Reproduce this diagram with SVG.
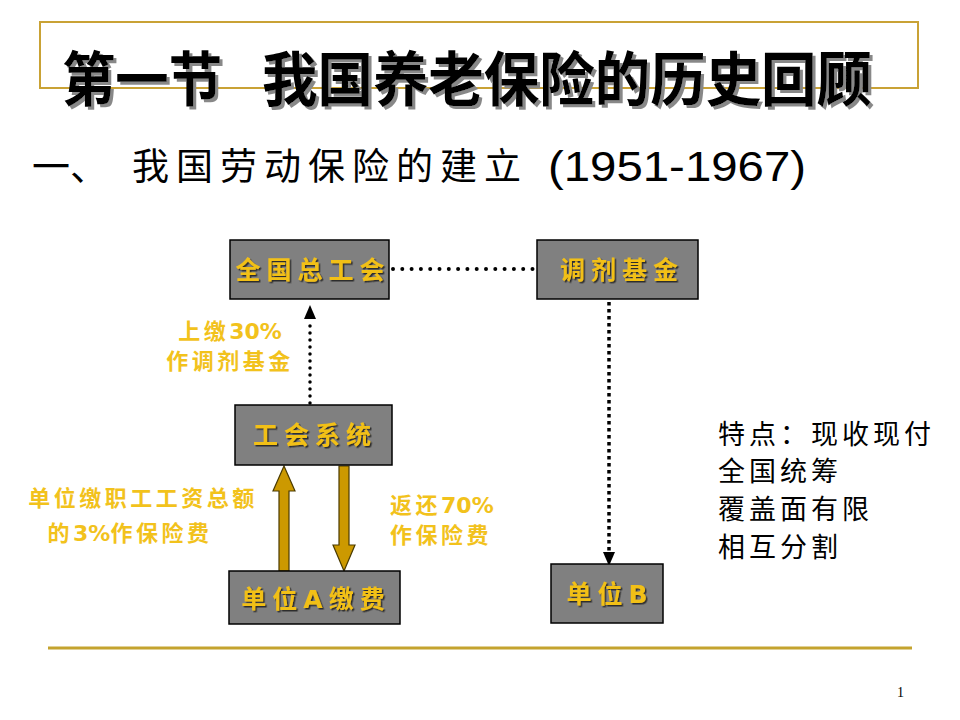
<svg xmlns="http://www.w3.org/2000/svg" width="960" height="720" viewBox="0 0 960 720">
<defs>
<style>
.box{fill:#808080;stroke:#000;stroke-width:1.5}
.bt{font-family:"Noto Sans CJK SC","Noto Sans",sans-serif;font-size:25px;font-weight:bold;fill:#F2C018;text-anchor:middle;letter-spacing:6px}
.lbl{font-family:"Noto Sans CJK SC","Noto Sans",sans-serif;font-size:22px;font-weight:bold;fill:#F2C21C;letter-spacing:3.5px}
.lbl tspan.n{font-family:"DejaVu Sans",sans-serif;font-weight:bold;letter-spacing:0}
.note{font-family:"Noto Sans CJK SC",serif;font-size:27px;fill:#000;letter-spacing:4px}
.ttl{font-family:"Noto Sans CJK SC",sans-serif;font-size:59px;font-weight:bold;fill:#000}
.dot{fill:none;stroke:#000;stroke-linecap:round}
.garrow{fill:#CC9900;stroke:#4a3a00;stroke-width:1.2}
</style>
<filter id="sh" x="-10%" y="-10%" width="130%" height="140%">
<feDropShadow dx="1.5" dy="1.5" stdDeviation="0.6" flood-color="#222" flood-opacity="0.9"/>
</filter>
<filter id="tsh" x="-5%" y="-10%" width="110%" height="130%">
<feDropShadow dx="3" dy="3" stdDeviation="0.5" flood-color="#888" flood-opacity="1"/>
</filter>
</defs>
<rect width="960" height="720" fill="#fff"/>

<!-- title -->
<rect x="40" y="22" width="878" height="66" fill="none" stroke="#C9A235" stroke-width="2"/>
<g id="title" filter="url(#tsh)">
<text class="ttl" x="62" y="101" textLength="160" lengthAdjust="spacingAndGlyphs">第一节</text>
<text class="ttl" x="262" y="101" textLength="610" lengthAdjust="spacingAndGlyphs">我国养老保险的历史回顾</text>
</g>
<g id="subtitle">
<text x="32" y="180" font-family="Noto Sans CJK SC,sans-serif" font-size="38" fill="#000">一、</text>
<text x="132" y="180" font-family="Noto Sans CJK SC,sans-serif" font-size="37" fill="#000" letter-spacing="7">我国劳动保险的建立</text>
<text x="548" y="181" font-family="Liberation Sans Narrow,Liberation Sans,sans-serif" font-size="42" fill="#000" textLength="258" lengthAdjust="spacingAndGlyphs">(1951-1967)</text>
</g>

<!-- connectors -->
<g id="connectors">
<line class="dot" x1="393" y1="269" x2="533" y2="269" stroke-width="4" stroke-dasharray="0 9.3"/>
<line class="dot" x1="310" y1="403" x2="310" y2="322" stroke-width="3.5" stroke-dasharray="0 7"/>
<polygon points="310,305 304,319 316,319" fill="#000"/>
<line x1="609" y1="302" x2="609" y2="553" stroke="#000" stroke-width="3.5" stroke-dasharray="3.5 3.5"/>
<polygon points="609,566 603,552 615,552" fill="#000"/>
<polygon class="garrow" points="284,466 295,491 289,491 289,571 279,571 279,491 273,491"/>
<polygon class="garrow" points="344,571 355,545 349,545 349,466 339,466 339,545 333,545"/>
</g>

<g id="n1"><rect class="box" x="230" y="240" width="159" height="59"/><text class="bt" x="313" y="279" filter="url(#sh)">全国总工会</text></g>
<g id="n2"><rect class="box" x="537" y="240" width="161" height="59"/><text class="bt" x="622" y="279" filter="url(#sh)">调剂基金</text></g>
<g id="n3"><rect class="box" x="235" y="405" width="157" height="60"/><text class="bt" x="315" y="444" filter="url(#sh)">工会系统</text></g>
<g id="n4"><rect class="box" x="229" y="571" width="171" height="53"/><text class="bt" x="316" y="608" filter="url(#sh)">单位<tspan font-family="DejaVu Sans,sans-serif">A</tspan>缴费</text></g>
<g id="n5"><rect class="box" x="551" y="564" width="112" height="59"/><text class="bt" x="610" y="603" filter="url(#sh)">单位<tspan font-family="DejaVu Sans,sans-serif">B</tspan></text></g>

<g id="labels">
<text class="lbl" x="230" y="339" text-anchor="middle">上缴<tspan class="n">30%</tspan></text>
<text class="lbl" x="230" y="369" text-anchor="middle">作调剂基金</text>
<text class="lbl" x="143" y="506" text-anchor="middle" letter-spacing="6">单位缴职工工资总额</text>
<text class="lbl" x="130" y="541" text-anchor="middle">的<tspan class="n">3%</tspan>作保险费</text>
<text class="lbl" x="390" y="513">返还<tspan class="n">70%</tspan></text>
<text class="lbl" x="390" y="543">作保险费</text>
</g>

<g id="notes">
<text class="note" x="718" y="444">特点：现收现付</text>
<text class="note" x="718" y="481">全国统筹</text>
<text class="note" x="718" y="519">覆盖面有限</text>
<text class="note" x="718" y="557">相互分割</text>
</g>

<line x1="48" y1="648" x2="912" y2="648" stroke="#C4A32E" stroke-width="3"/>
<text x="897" y="697" font-family="Liberation Serif,serif" font-size="14" fill="#000">1</text>
</svg>
